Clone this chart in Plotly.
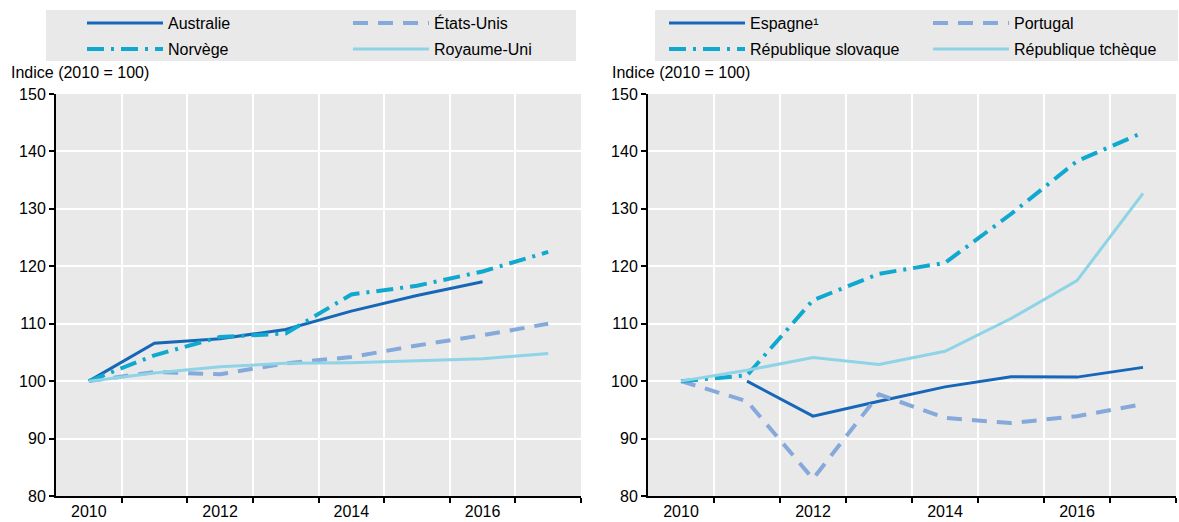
import plotly.graph_objects as go

years = [2010, 2011, 2012, 2013, 2014, 2015, 2016, 2017]
tick_years = [2010, 2012, 2014, 2016]

# Left panel
australie = [100, 106.6, 107.4, 109.0, 112.2, 114.9, 117.3, None]
etats_unis = [100, 101.6, 101.2, 103.1, 104.2, 106.2, 108.0, 110.0]
norvege = [100, 104.5, 107.7, 108.3, 115.1, 116.6, 119.1, 122.5]
royaume_uni = [100, 101.4, 102.5, 103.1, 103.2, 103.5, 103.9, 104.8]

# Right panel
espagne = [None, 100.0, 93.9, 96.5, 99.0, 100.75, 100.7, 102.4]
portugal = [100, 96.5, 83.0, 97.7, 93.6, 92.7, 93.9, 96.0]
slovaquie = [100, 101.0, 114.1, 118.7, 120.6, 129.1, 138.3, 143.3]
tcheque = [100, 101.9, 104.1, 102.9, 105.2, 110.9, 117.5, 132.7]

y_title = "Indice (2010 = 100)"

FONT = "Liberation Sans, Arial, sans-serif"
FS_TICK = 16
FS_TEXT = 16
W, H = 1179, 522

C_DARK = "#1667b7"
C_DASH = "#86a9db"
C_DOT = "#0fa9cf"
C_LIGHT = "#8ed3e6"
BG = "#e9e9e9"

styles = {
    "solid": dict(color=C_DARK, width=3, dash="solid"),
    "dash": dict(color=C_DASH, width=4, dash="15px,10px"),
    "dashdot": dict(color=C_DOT, width=4, dash="17px,7px,3px,7px"),
    "light": dict(color=C_LIGHT, width=3, dash="solid"),
}

def px_x(p):
    return p / W

def px_y(p):
    return 1 - p / H

fig = go.Figure()

# (name, values, style, xaxis, yaxis, legend id, symbol-left px, row-center px)
series = [
    ("Australie", australie, "solid", "x", "y", "legend", 90, 23),
    ("États-Unis", etats_unis, "dash", "x", "y", "legend2", 356, 23),
    ("Norvège", norvege, "dashdot", "x", "y", "legend3", 90, 49),
    ("Royaume-Uni", royaume_uni, "light", "x", "y", "legend4", 356, 49),
    ("Espagne¹", espagne, "solid", "x2", "y2", "legend5", 672, 23),
    ("Portugal", portugal, "dash", "x2", "y2", "legend6", 936, 23),
    ("République slovaque", slovaquie, "dashdot", "x2", "y2", "legend7", 672, 49),
    ("République tchèque", tcheque, "light", "x2", "y2", "legend8", 936, 49),
]

leg_common = dict(orientation="h", itemwidth=76, bgcolor="rgba(0,0,0,0)",
                  xanchor="left", yanchor="middle",
                  font=dict(family=FONT, size=FS_TEXT, color="black"),
                  itemclick=False, itemdoubleclick=False)

legends = {}
for name, vals, style, xa, ya, leg, lx, ly in series:
    fig.add_trace(go.Scatter(
        x=years, y=vals, name=name, mode="lines", line=styles[style],
        xaxis=xa, yaxis=ya, legend=leg, connectgaps=False, hoverinfo="skip"))
    legends[leg] = dict(x=px_x(lx - 8), y=px_y(ly), **leg_common)

left_dom = [px_x(56), px_x(581)]
right_dom = [px_x(648), px_x(1176)]
y_dom = [px_y(496), px_y(94)]

xaxis_common = dict(
    range=[2009.5, 2017.5], tickmode="array", tickvals=tick_years,
    ticktext=[str(t) for t in tick_years], ticks="", showgrid=False,
    zeroline=False, showline=True, linecolor="black", linewidth=2,
    tickfont=dict(family=FONT, size=FS_TICK, color="black"),
    minor=dict(tickmode="array", tickvals=[y + 0.5 for y in years],
               ticks="outside", ticklen=5, tickwidth=1.5, tickcolor="black",
               showgrid=True, gridcolor="white", gridwidth=2),
    fixedrange=True,
)
yaxis_common = dict(
    range=[80, 150], dtick=10, tick0=80, ticks="outside", ticklen=5,
    tickwidth=1.5, tickcolor="black", showgrid=True, gridcolor="white",
    gridwidth=2, zeroline=False, showline=True, linecolor="black",
    linewidth=2, tickfont=dict(family=FONT, size=FS_TICK, color="black"),
    fixedrange=True,
)

fig.update_layout(
    width=W, height=H,
    margin=dict(l=0, r=0, t=0, b=0, autoexpand=False),
    paper_bgcolor="white", plot_bgcolor=BG,
    xaxis=dict(domain=left_dom, anchor="y", **xaxis_common),
    yaxis=dict(domain=y_dom, anchor="x", **yaxis_common),
    xaxis2=dict(domain=right_dom, anchor="y2", **xaxis_common),
    yaxis2=dict(domain=y_dom, anchor="x2", **yaxis_common),
    showlegend=True,
    shapes=[
        dict(type="rect", xref="paper", yref="paper", x0=px_x(46), x1=px_x(576),
             y0=px_y(61), y1=px_y(10), fillcolor=BG, line=dict(width=0), layer="below"),
        dict(type="rect", xref="paper", yref="paper", x0=px_x(655), x1=px_x(1178),
             y0=px_y(61), y1=px_y(10), fillcolor=BG, line=dict(width=0), layer="below"),
    ],
    annotations=[
        dict(text=y_title, xref="paper", yref="paper", x=px_x(9), y=px_y(72),
             xanchor="left", yanchor="middle", showarrow=False,
             font=dict(family=FONT, size=FS_TEXT, color="black")),
        dict(text=y_title, xref="paper", yref="paper", x=px_x(610), y=px_y(72),
             xanchor="left", yanchor="middle", showarrow=False,
             font=dict(family=FONT, size=FS_TEXT, color="black")),
    ],
    **legends,
)

fig.write_html(
    "out.html",
    config={"displayModeBar": False, "staticPlot": False},
    post_script="document.body.style.margin='0';document.body.style.padding='0';",
)
